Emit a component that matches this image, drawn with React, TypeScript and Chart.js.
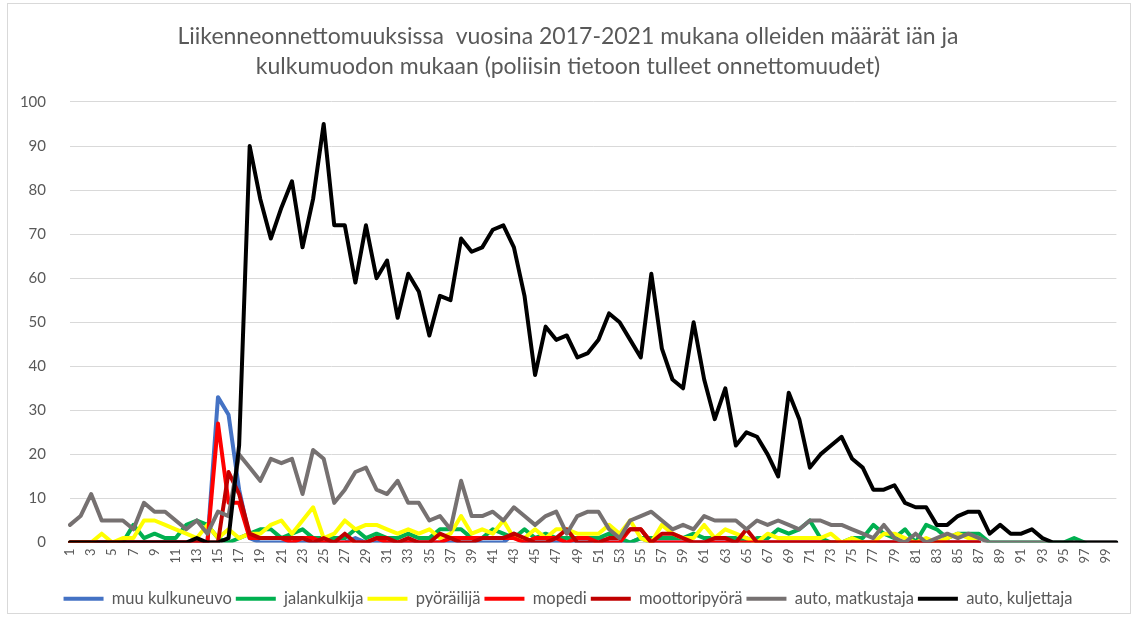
import React, { useEffect, useRef } from "react";
import { Chart, registerables } from "chart.js";

Chart.register(...registerables);

const FONT = "Lato, 'Open Sans', sans-serif";

const titleLines = [
  "Liikenneonnettomuuksissa  vuosina 2017-2021 mukana olleiden määrät iän ja",
  "kulkumuodon mukaan (poliisin tietoon tulleet onnettomuudet)",
];

// ages 1..100
const ages: string[] = [
  "1","2","3","4","5","6","7","8","9","10","11","12","13","14","15","16","17","18","19","20",
  "21","22","23","24","25","26","27","28","29","30","31","32","33","34","35","36","37","38","39","40",
  "41","42","43","44","45","46","47","48","49","50","51","52","53","54","55","56","57","58","59","60",
  "61","62","63","64","65","66","67","68","69","70","71","72","73","74","75","76","77","78","79","80",
  "81","82","83","84","85","86","87","88","89","90","91","92","93","94","95","96","97","98","99","100",
];

const muuKulkuneuvo: (number | null)[] = [
  0,0,0,0,0,0,0,0,0,0, 0,0,0,0,33,29,12,1,0,0,
  0,0,0,0,0,0,0,1,0,0, 0,0,0,0,0,0,0,0,0,0,
  0,0,2,0,0,0,0,0,0,0, 1,0,0,0,1,0,0,0,0,0,
  0,0,0,0,1,0,0,0,0,0, 0,0,0,0,0,0,0,0,0,0,
  0,0,0,0,0,0,0,null,null,null, null,null,null,null,null,null,null,null,null,null,
];

const jalankulkija: (number | null)[] = [
  0,0,0,0,0,0,4,1,2,1, 1,4,5,4,1,0,1,2,3,3,
  1,2,3,1,1,1,1,3,1,2, 1,1,2,1,1,3,3,3,1,1,
  3,2,1,3,1,2,1,1,1,1, 1,2,1,0,1,1,1,1,1,2,
  1,1,1,1,0,1,1,3,2,3, 5,1,0,0,1,1,4,2,1,3,
  0,4,3,1,2,2,2,0,0,0, 0,0,0,0,0,1,0,null,null,null,
];

const pyorailija: (number | null)[] = [
  0,0,0,2,0,1,1,5,5,4, 3,2,1,4,1,3,1,2,2,4,
  5,2,5,8,1,2,5,3,4,4, 3,2,3,2,3,1,2,6,2,3,
  2,5,1,1,3,1,3,3,2,2, 2,4,2,5,1,0,4,2,1,1,
  4,1,3,2,1,0,2,1,1,1, 1,1,2,0,1,0,0,2,2,1,
  0,1,0,1,2,1,1,null,null,null, null,null,null,null,null,null,null,null,null,null,
];

const mopedi: (number | null)[] = [
  0,0,0,0,0,0,0,0,0,0, 0,0,0,0,27,9,9,1,1,1,
  1,0,1,1,0,0,0,0,0,1, 0,0,0,0,0,0,1,1,1,1,
  1,1,1,0,1,1,1,0,1,1, 0,0,0,3,3,0,0,0,0,0,
  0,0,0,0,0,0,0,0,0,0, 0,0,0,0,0,0,0,0,0,0,
  0,0,0,0,0,0,0,null,null,null, null,null,null,null,null,null,null,null,null,null,
];

const moottoripyora: (number | null)[] = [
  0,0,0,0,0,0,0,0,0,0, 0,0,0,0,0,16,11,2,1,1,
  1,1,1,0,1,0,2,0,0,1, 1,0,1,0,0,2,1,0,0,1,
  1,1,2,1,0,0,1,3,0,0, 0,1,1,3,3,0,2,2,1,0,
  0,1,1,0,3,0,0,0,0,0, 0,0,0,0,0,0,0,0,0,0,
  0,0,0,0,0,0,0,null,null,null, null,null,null,null,null,null,null,null,null,null,
];

const autoMatkustaja: (number | null)[] = [
  4,6,11,5,5,5,3,9,7,7, 5,3,5,2,7,6,20,17,14,19,
  18,19,11,21,19,9,12,16,17,12, 11,14,9,9,5,6,3,14,6,6,
  7,5,8,6,4,6,7,2,6,7, 7,3,1,5,6,7,5,3,4,3,
  6,5,5,5,3,5,4,5,4,3, 5,5,4,4,3,2,1,4,1,0,
  2,0,1,2,1,2,1,0,0,0, 0,0,0,0,0,0,0,0,0,0,
];

const autoKuljettaja: (number | null)[] = [
  0,0,0,0,0,0,0,0,0,0, 0,0,1,0,0,1,22,90,78,69,
  76,82,67,78,95,72,72,59,72,60, 64,51,61,57,47,56,55,69,66,67,
  71,72,67,56,38,49,46,47,42,43, 46,52,50,46,42,61,44,37,35,50,
  37,28,35,22,25,24,20,15,34,28, 17,20,22,24,19,17,12,12,13,9,
  8,8,4,4,6,7,7,2,4,2, 2,3,1,0,0,0,0,0,0,0,
];

const seriesNames = [
  "muu kulkuneuvo",
  "jalankulkija",
  "pyöräilijä",
  "mopedi",
  "moottoripyörä",
  "auto, matkustaja",
  "auto, kuljettaja",
];
const seriesColors = ["#4472C4", "#00B050", "#FFFF00", "#FF0000", "#C00000", "#767171", "#000000"];
const seriesData = [muuKulkuneuvo, jalankulkija, pyorailija, mopedi, moottoripyora, autoMatkustaja, autoKuljettaja];

export default function App() {
  const canvasRef = useRef<HTMLCanvasElement | null>(null);

  useEffect(() => {
    document.body.style.margin = "0";
    const canvas = canvasRef.current;
    if (!canvas) return;
    const chart = new Chart(canvas, {
      type: "line",
      data: {
        labels: ages,
        datasets: seriesData.map((d, i) => ({
          label: seriesNames[i],
          data: d,
          borderColor: seriesColors[i],
          backgroundColor: seriesColors[i],
          borderWidth: 4,
          pointRadius: 0,
          tension: 0,
          spanGaps: false,
          borderJoinStyle: "round" as const,
          borderCapStyle: "round" as const,
          order: seriesData.length - 1 - i,
        })),
      },
      options: {
        animation: false,
        responsive: false,
        maintainAspectRatio: false,
        layout: { padding: { left: 19, right: 21, top: 0, bottom: 1 } },
        plugins: {
          title: {
            display: true,
            text: titleLines,
            color: "#595959",
            font: { family: FONT, size: 23, weight: "normal", lineHeight: 1.304 },
            padding: { top: 22, bottom: 20 },
          },
          legend: {
            position: "bottom",
            labels: {
              boxWidth: 40,
              boxHeight: 4,
              color: "#595959",
              padding: 4,
              font: { family: FONT, size: 16.5 },
              sort: (a: any, b: any) => a.datasetIndex - b.datasetIndex,
              generateLabels: (ch: any) =>
                Chart.defaults.plugins.legend.labels.generateLabels(ch).map((l: any) => ({
                  ...l,
                  lineWidth: 0,
                  fillStyle: seriesColors[l.datasetIndex],
                  strokeStyle: seriesColors[l.datasetIndex],
                })),
            },
          },
          tooltip: { enabled: false },
        },
        scales: {
          x: {
            type: "category",
            offset: false,
            grid: { display: false, drawTicks: false },
            border: { display: true, color: "#d9d9d9", width: 1 },
            ticks: {
              autoSkip: false,
              maxRotation: 90,
              minRotation: 90,
              color: "#595959",
              padding: 6,
              font: { family: FONT, size: 13 },
              callback: function (this: any, value: any, index: number) {
                return index % 2 === 0 ? ages[index] : "";
              },
            },
            afterFit: (s: any) => {
              s.height = 44;
            },
          },
          y: {
            min: 0,
            max: 100,
            ticks: {
              stepSize: 10,
              color: "#595959",
              padding: 24,
              font: { family: FONT, size: 15 },
            },
            grid: { color: "#d9d9d9", lineWidth: 1, drawTicks: false },
            border: { display: false },
            afterFit: (s: any) => {
              s.width = 51;
            },
          },
        },
      },
    });
    return () => chart.destroy();
  }, []);

  return (
    <div style={{ position: "relative", width: 1138, height: 618, background: "#fff" }}>
      <canvas ref={canvasRef} width={1138} height={618} style={{ display: "block" }} />
      <div
        style={{
          position: "absolute",
          left: 7,
          top: 3,
          width: 1124,
          height: 611,
          border: "1px solid #d9d9d9",
          boxSizing: "border-box",
          pointerEvents: "none",
        }}
      />
    </div>
  );
}
